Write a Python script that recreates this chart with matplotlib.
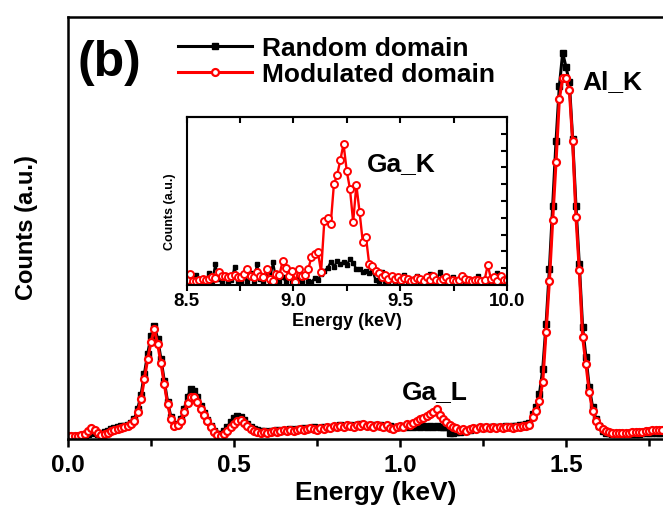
import numpy as np
import matplotlib.pyplot as plt
from matplotlib.ticker import MultipleLocator

plt.rcParams['font.family'] = ['Liberation Sans', 'DejaVu Sans']
plt.rcParams['font.weight'] = 'bold'

# main spectrum, 10 eV channels from 0 to 1.79 keV
energy = np.round(np.arange(180) * 0.01, 2)

random_counts = [
    3, 3, 3, 3, 3, 4, 5, 7, 6, 5,
    5, 7, 8, 10, 11, 12, 13, 13, 14, 16,
    20, 30, 44, 65, 85, 103, 113, 100, 80, 58,
    37, 22, 14, 15, 20, 30, 42, 50, 48, 42,
    33, 26, 19, 13, 8, 5, 5, 8, 12, 17,
    21, 23, 22, 19, 15, 12, 10, 9, 8, 8,
    7, 8, 8, 9, 8, 9, 9, 10, 9, 10,
    10, 11, 10, 11, 12, 10, 11, 12, 11, 12,
    12, 13, 14, 13, 13, 14, 13, 14, 15, 14,
    14, 13, 14, 13, 14, 13, 12, 13, 12, 12,
    12, 13, 12, 13, 12, 13, 12, 13, 12, 13,
    12, 13, 12, 12, 12, 6, 6, 7, 7, 8,
    8, 9, 10, 11, 11, 12, 11, 12, 12, 12,
    12, 12, 13, 12, 13, 13, 14, 14, 15, 16,
    25, 32, 45, 70, 115, 170, 233, 298, 353, 386,
    372, 357, 300, 233, 175, 112, 82, 52, 32, 20,
    13, 8, 6, 6, 5, 5, 5, 5, 5, 5,
    5, 5, 5, 6, 6, 6, 6, 6, 6, 6,
]

modulated_counts = [
    3, 3, 3, 3, 4, 5, 8, 11, 9, 6,
    4, 5, 6, 8, 9, 10, 11, 12, 13, 15,
    18, 27, 40, 60, 80, 97, 110, 95, 76, 55,
    35, 20, 13, 14, 18, 27, 36, 42, 42, 37,
    30, 24, 18, 12, 7, 4, 3, 5, 8, 12,
    15, 18, 19, 16, 13, 10, 8, 7, 6, 7,
    6, 7, 8, 7, 8, 9, 8, 9, 8, 9,
    10, 9, 10, 11, 10, 9, 11, 10, 12, 11,
    13, 12, 13, 12, 14, 13, 12, 14, 13, 15,
    13, 14, 12, 14, 13, 12, 14, 11, 10, 12,
    13, 12, 15, 14, 16, 18, 20, 21, 23, 25,
    27, 30, 24, 20, 17, 14, 12, 11, 9, 10,
    8, 10, 11, 10, 12, 11, 12, 11, 12, 11,
    12, 11, 12, 12, 11, 12, 12, 13, 13, 14,
    22, 28, 38, 57, 107, 158, 219, 277, 340, 361,
    361, 349, 298, 222, 169, 102, 75, 47, 28, 18,
    13, 10, 8, 7, 6, 6, 6, 6, 6, 6,
    7, 7, 7, 7, 8, 8, 9, 9, 9, 9,
]

# inset: Ga_K region
inset_energy = 8.5 + np.arange(101) * 0.015

inset_random = [
    3, 6, 3, 10, 3, 5, 3, 12, 4, 21,
    6, 3, 9, 3, 5, 18, 4, 3, 8, 3,
    12, 4, 21, 6, 3, 10, 4, 23, 5, 3,
    8, 3, 13, 4, 3, 6, 3, 9, 4, 3,
    7, 5, 11, 14, 17, 23, 18, 24, 21, 23,
    20, 26, 22, 16, 16, 13, 14, 12, 14, 5,
    3, 13, 4, 3, 8, 3, 5, 3, 10, 3,
    4, 3, 9, 3, 5, 3, 11, 3, 4, 13,
    3, 5, 3, 8, 3, 4, 10, 3, 5, 3,
    4, 9, 3, 5, 3, 4, 3, 12, 3, 5,
    3,
]

inset_modulated = [
    5, 11, 4, 4, 5, 6, 5, 6, 8, 7,
    13, 9, 9, 8, 9, 10, 8, 8, 11, 16,
    9, 8, 13, 9, 8, 16, 6, 4, 11, 10,
    24, 17, 9, 14, 3, 16, 9, 10, 16, 28,
    31, 33, 13, 64, 67, 61, 101, 110, 125, 141,
    114, 96, 63, 100, 73, 43, 48, 21, 19, 14,
    12, 8, 10, 6, 9, 6, 8, 5, 7, 6,
    4, 5, 7, 6, 4, 8, 5, 9, 5, 4,
    6, 8, 4, 5, 4, 5, 9, 6, 5, 4,
    5, 5, 4, 5, 20, 6, 8, 4, 9, 5,
    5,
]

W, H = 663, 506


def box(left, top, right, bottom):
    return [left / W, 1 - bottom / H, (right - left) / W, (bottom - top) / H]


fig = plt.figure(figsize=(W / 100, H / 100), dpi=100)
ax = fig.add_axes(box(68, 18, 665.6, 440))

ax.plot(energy, random_counts, color='black', lw=2.2, marker='s', ms=4,
        label='Random domain')
ax.plot(energy, modulated_counts, color='#ff0000', lw=2.2, marker='o', ms=5,
        mfc='white', mec='#ff0000', mew=1.6, label='Modulated domain')

ax.set_xlim(0, 1.8)
ax.set_ylim(0, 422)
ax.set_yticks([])
ax.xaxis.set_major_locator(MultipleLocator(0.5))
ax.xaxis.set_minor_locator(MultipleLocator(0.25))
ax.tick_params(axis='x', which='major', direction='out', length=6, width=1.8,
               labelsize=17.5, pad=4)
ax.tick_params(axis='x', which='minor', direction='out', length=5, width=1.8)
for s in ax.spines.values():
    s.set_linewidth(1.8)

ax.legend(loc='upper left', bbox_to_anchor=((178 - 68) / 597.6, (440 - 37) / 422),
          frameon=False, fontsize=19, handlelength=2.8, handletextpad=0.38,
          labelspacing=0.08, borderpad=0, borderaxespad=0, numpoints=1)

fig.text(78 / W, 1 - 63 / H, '(b)', fontsize=36, ha='left', va='center')
fig.text(582 / W, 1 - 82 / H, 'Al_K', fontsize=19, ha='left', va='center')
fig.text(402 / W, 1 - 392 / H, 'Ga_L', fontsize=19, ha='left', va='center')
fig.text(376 / W, 1 - 493 / H, 'Energy (keV)', fontsize=19, ha='center', va='center')
fig.text(27 / W, 1 - 228 / H, 'Counts (a.u.)', fontsize=17, ha='center', va='center',
         rotation=90)

# inset
axi = fig.add_axes(box(186.5, 118, 507, 286))
axi.plot(inset_energy, inset_random, color='black', lw=1.6, marker='s', ms=3.5)
axi.plot(inset_energy, inset_modulated, color='#ff0000', lw=1.7, marker='o', ms=5,
         mfc='white', mec='#ff0000', mew=1.4)
axi.set_xlim(8.5, 10.0)
axi.set_ylim(0, 168)
axi.xaxis.set_major_locator(MultipleLocator(0.5))
axi.xaxis.set_minor_locator(MultipleLocator(0.25))
axi.tick_params(axis='x', which='major', direction='out', length=4, width=1.5,
                labelsize=13.5, pad=1)
axi.tick_params(axis='x', which='minor', direction='out', length=4, width=1.5)
axi.yaxis.tick_right()
axi.set_yticks(np.arange(0, 168, 16.8))
axi.tick_params(axis='y', direction='in', length=4, width=1.5, labelright=False)
top = axi.secondary_xaxis('top')
top.set_xticks(np.arange(8.5, 10.01, 0.25))
top.tick_params(direction='in', length=4, width=1.5, labeltop=False)
top.spines['top'].set_linewidth(1.5)
for s in axi.spines.values():
    s.set_linewidth(1.5)

fig.text(367 / W, 1 - 164 / H, 'Ga_K', fontsize=19, ha='left', va='center')
fig.text(347 / W, 1 - 322 / H, 'Energy (keV)', fontsize=13, ha='center', va='center')
fig.text(170 / W, 1 - 212 / H, 'Counts (a.u.)', fontsize=9, ha='center', va='center',
         rotation=90)

fig.savefig('out.png', dpi=100)
